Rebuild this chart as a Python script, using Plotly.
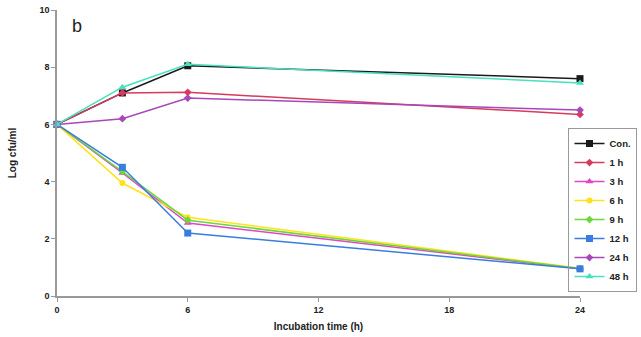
import plotly.graph_objects as go

time_h = [0, 3, 6, 24]
series_names = ["Con.", "1 h", "3 h", "6 h", "9 h", "12 h", "24 h", "48 h"]
con = [6.0, 7.1, 8.05, 7.6]
h1 = [6.0, 7.1, 7.12, 6.35]
h3 = [6.0, 4.3, 2.55, 0.95]
h6 = [6.0, 3.95, 2.75, 0.97]
h9 = [6.0, 4.35, 2.65, 0.96]
h12 = [6.0, 4.5, 2.2, 0.95]
h24 = [6.0, 6.2, 6.92, 6.5]
h48 = [6.0, 7.3, 8.1, 7.45]
x_ticks = [0, 6, 12, 18, 24]
y_ticks = [0, 2, 4, 6, 8, 10]

values = [con, h1, h3, h6, h9, h12, h24, h48]
colors = ["#1a1a1a", "#d63a5e", "#e046c8", "#ffe21a", "#6ad83a", "#3a7de0", "#a848b8", "#48e0be"]
symbols = ["square", "diamond", "triangle-up", "circle", "diamond", "square", "diamond", "triangle-up"]
sizes = [7, 6, 7, 6, 6, 7, 6, 7]

fig = go.Figure()
for name, vals, c, s, sz in zip(series_names, values, colors, symbols, sizes):
    fig.add_trace(go.Scatter(
        x=time_h, y=vals, name=name, mode="lines+markers",
        line=dict(color=c, width=1.5),
        marker=dict(symbol=s, size=sz, color=c),
        cliponaxis=False,
    ))

font_family = "Liberation Sans, Arial, sans-serif"
fig.update_layout(
    width=641, height=337,
    margin=dict(l=57, r=61, t=10, b=41, autoexpand=False),
    paper_bgcolor="white", plot_bgcolor="white",
    font=dict(family=font_family, color="#222"),
    showlegend=True,
    legend=dict(
        x=0.978, xanchor="left", y=0.587, yanchor="top",
        font=dict(size=9.5, weight="bold", color="#222"),
        bordercolor="#999", borderwidth=1, bgcolor="rgba(255,255,255,0)",
        itemwidth=30, tracegroupgap=0,
    ),
    xaxis=dict(
        range=[0, 24], tickvals=x_ticks, showgrid=False, zeroline=False,
        showline=True, linecolor="#999", linewidth=1.5,
        ticks="outside", ticklen=4, tickcolor="#999", automargin=False,
        ticklabeloverflow="allow",
        tickfont=dict(size=9, weight="bold", color="#222"),
        title=dict(text="Incubation time (h)", font=dict(size=10, weight="bold", color="#222"), standoff=9),
    ),
    yaxis=dict(
        range=[0, 10], tickvals=y_ticks, showgrid=False, zeroline=False,
        showline=True, linecolor="#999", linewidth=1.5,
        ticks="outside", ticklen=4, tickcolor="#999", automargin=False,
        ticklabeloverflow="allow",
        tickfont=dict(size=9, weight="bold", color="#222"),
        title=dict(text="Log cfu/ml", font=dict(size=10, weight="bold", color="#222"), standoff=21),
    ),
    annotations=[dict(
        text="b", x=0.025, y=0.985, xref="paper", yref="paper",
        xanchor="left", yanchor="top", showarrow=False,
        font=dict(size=18, color="#222"),
    )],
)

fig.write_html("out.html", config={"displayModeBar": False},
               post_script="document.body.style.margin='0';")
